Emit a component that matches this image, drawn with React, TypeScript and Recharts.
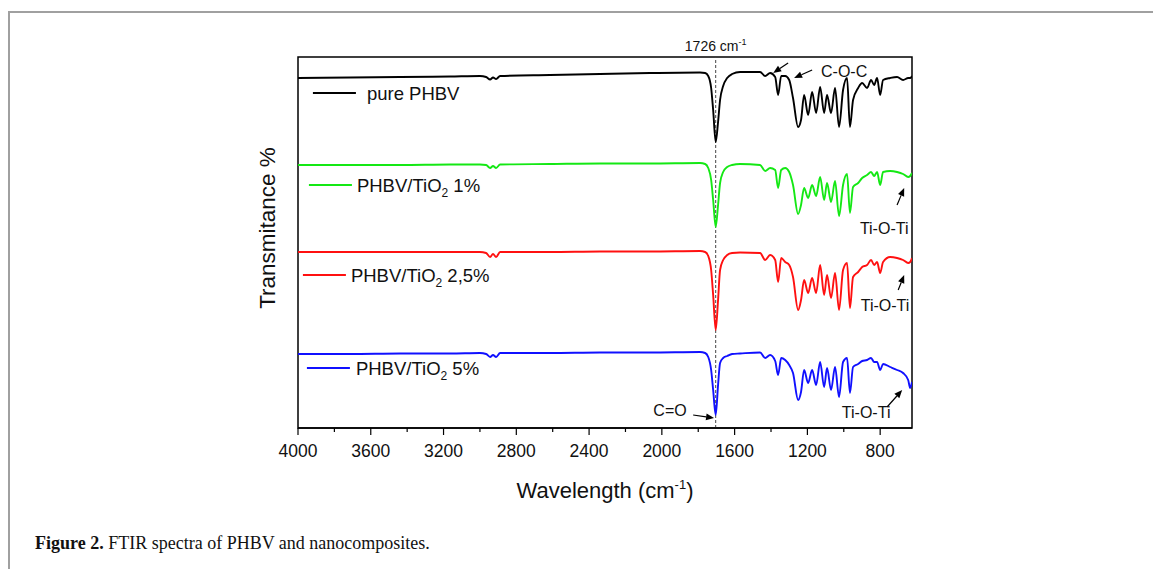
import React from 'react';
import { LineChart, Line, XAxis, YAxis, ReferenceLine, ReferenceArea, ReferenceDot } from 'recharts';

// Wavenumbers (cm-1) shared by all four spectra
const wavenumbers = [4000, 3714, 3439, 3164, 3000, 2966, 2944, 2928, 2911, 2889, 2615, 2340, 2065, 1790, 1762, 1745, 1729, 1718, 1704, 1691, 1680, 1663, 1641, 1614, 1570, 1460, 1432, 1405, 1377, 1361, 1344, 1322, 1300, 1279, 1251, 1235, 1218, 1196, 1174, 1152, 1130, 1108, 1092, 1070, 1048, 1026, 1004, 982, 966, 949, 921, 899, 872, 850, 833, 817, 800, 784, 745, 707, 674, 646, 635, 625];

// Offset transmittance values (arbitrary units, stacked)
const purePHBV = [350, 350.5, 351, 351.5, 352, 351, 348.5, 350.5, 349, 352, 353, 354, 355, 355.5, 355, 352, 340, 318, 286, 306, 328, 342, 350, 354, 356, 356, 352, 355, 351, 333, 352, 352, 348, 330, 301, 308, 333, 313, 336, 315, 341, 315, 333, 315, 340, 301, 338, 350, 301, 328, 340, 345, 340, 348, 343, 350, 333, 348, 350, 351, 348, 350, 350, 352];
const tio2OnePct = [263, 263, 263, 263.5, 263.5, 263, 260, 262, 260, 263.5, 264, 264.5, 264.5, 265, 264, 260, 248, 228, 201, 223, 245, 256, 261, 263, 264, 263, 257, 260, 258, 240, 258, 260, 256, 243, 214, 223, 240, 230, 243, 232, 251, 228, 245, 226, 247, 212, 243, 254, 215, 241, 245, 250, 253, 256, 252, 256, 243, 256, 257, 256, 254, 251, 252, 255];
const tio2TwoHalfPct = [176, 176, 176, 176, 176, 175, 171, 174, 171, 176, 176, 176.5, 176.5, 177, 176, 172, 158, 133, 98, 128, 158, 168, 173, 175, 175.5, 175, 168, 173, 168, 146, 170, 166, 163, 151, 118, 128, 148, 135, 150, 135, 163, 133, 153, 130, 155, 118, 158, 165, 120, 151, 156, 161, 163, 168, 163, 166, 155, 166, 171, 170, 168, 165, 166, 170];
const tio2FivePct = [74, 74, 74.5, 74.5, 75, 74, 71, 73, 71, 75, 75, 75.5, 75.5, 76, 75, 71, 58, 38, 13, 43, 65, 70, 72, 74, 74.5, 75.5, 70, 73, 67, 53, 70, 68, 63, 55, 28, 36, 58, 45, 58, 43, 66, 41, 60, 38, 61, 31, 66, 70, 35, 61, 64, 67, 68, 70, 66, 66, 58, 64, 61, 58, 55, 48, 40, 46];

const xTicks = [4000, 3800, 3600, 3400, 3200, 3000, 2800, 2600, 2400, 2200, 2000, 1800, 1600, 1400, 1200, 1000, 800];
const majorTickStep = 400;
const xDomain = [625, 4000];
const yDomain = [0, 371];
const carbonylPeak = 1704;

const seriesKeys = ['pure', 'one', 'twoHalf', 'five'];
const seriesColors = ['#000000', '#14e814', '#ff1010', '#1010ff'];

const data = wavenumbers.map((w, i) => ({
  w,
  pure: purePHBV[i],
  one: tio2OnePct[i],
  twoHalf: tio2TwoHalfPct[i],
  five: tio2FivePct[i],
}));

const sans = "'Liberation Sans', Arial, Helvetica, sans-serif";

const XTick = (props: any) => {
  const { x, y, payload } = props;
  const v = payload.value;
  const major = v % majorTickStep === 0;
  return (
    <g>
      <line x1={x} x2={x} y1={y} y2={y + (major ? 7 : 4)} stroke="#000" strokeWidth={1.2} />
      {major && (
        <text x={x} y={y + 29} textAnchor="middle" fontSize={17.5} fontFamily={sans} fill="#111">
          {v}
        </text>
      )}
    </g>
  );
};

const XTitle = (props: any) => {
  const vb = props.viewBox;
  const cx = vb.x + vb.width / 2;
  return (
    <text x={cx} y={vb.y + 70} textAnchor="middle" fontSize={22} fontFamily={sans} fill="#111">
      Wavelength (cm
      <tspan dy={-9} fontSize={13}>-1</tspan>
      <tspan dy={9}>)</tspan>
    </text>
  );
};

const yTitleShape = (p: any) => (
  <text
    x={p.cx}
    y={p.cy}
    transform={`rotate(-90 ${p.cx} ${p.cy})`}
    textAnchor="middle"
    dominantBaseline="central"
    fontSize={22.5}
    fontFamily={sans}
    fill="#111"
  >
    Transmitance %
  </text>
);

const Arrow = (p: any) => {
  const { x1, y1, x2, y2 } = p;
  const dx = x2 - x1;
  const dy = y2 - y1;
  const L = Math.hypot(dx, dy) || 1;
  const ux = dx / L;
  const uy = dy / L;
  const hl = 8;
  const hw = 3.3;
  const bx = x2 - ux * hl;
  const by = y2 - uy * hl;
  return (
    <g>
      <line x1={x1} y1={y1} x2={bx} y2={by} stroke="#000" strokeWidth={1.2} />
      <polygon points={`${x2},${y2} ${bx - uy * hw},${by + ux * hw} ${bx + uy * hw},${by - ux * hw}`} fill="#000" />
    </g>
  );
};

const textShape = (label: string, size: number, dy: number, anchor: string = 'middle') => (p: any) => (
  <text x={p.cx} y={p.cy + dy} textAnchor={anchor} fontSize={size} fontFamily={sans} fill="#111">
    {label}
  </text>
);

const legendShape = (color: string, gap: number, prefix: string, sub: string, suffix: string) => (p: any) => (
  <g>
    <line x1={p.cx} x2={p.cx + 43} y1={p.cy} y2={p.cy} stroke={color} strokeWidth={1.8} />
    <text x={p.cx + gap} y={p.cy + 6.5} fontSize={18.5} fontFamily={sans} fill="#111">
      {prefix}
      {sub ? <tspan dy={5} fontSize={12}>{sub}</tspan> : null}
      {sub ? <tspan dy={-5}>{suffix}</tspan> : suffix}
    </text>
  </g>
);

const peakLabel = (p: any) => (
  <text x={p.cx} y={p.cy - 6} textAnchor="middle" fontSize={14} fontFamily={sans} fill="#111">
    1726 cm<tspan dy={-6} fontSize={9}>-1</tspan>
  </text>
);

export default function App() {
  return (
    <div style={{ position: 'absolute', left: 0, top: 0, width: 1153, height: 569, background: '#fff', overflow: 'hidden' }}>
      <div
        style={{
          position: 'absolute',
          left: 8,
          top: 11,
          right: -4,
          bottom: -4,
          borderTop: '2px solid #a0a0a0',
          borderLeft: '2px solid #a0a0a0',
        }}
      />
      <div style={{ position: 'absolute', left: 0, top: 0 }}>
        <LineChart width={1153} height={569} data={data} margin={{ top: 57, right: 241, bottom: 111, left: 298 }}>
          <XAxis
            dataKey="w"
            type="number"
            domain={xDomain}
            reversed
            allowDataOverflow
            ticks={xTicks}
            interval={0}
            tick={<XTick />}
            tickLine={false}
            tickSize={0}
            tickMargin={0}
            axisLine={{ stroke: '#000', strokeWidth: 1.5 }}
            height={30}
            label={<XTitle />}
          />
          <YAxis type="number" domain={yDomain} allowDataOverflow hide />
          <ReferenceArea x1={xDomain[0]} x2={xDomain[1]} y1={yDomain[0]} y2={yDomain[1]} fill="none" stroke="#000" strokeWidth={1.5} fillOpacity={0} />
          <ReferenceLine x={carbonylPeak} stroke="#444" strokeWidth={1} strokeDasharray="3 2" />
          {seriesKeys.map((k, i) => (
            <Line
              key={k}
              dataKey={k}
              type="monotone"
              stroke={seriesColors[i]}
              strokeWidth={1.9}
              dot={false}
              activeDot={false}
              isAnimationActive={false}
            />
          ))}
          <ReferenceDot x={4165} y={200} r={0} ifOverflow="visible" shape={yTitleShape} />
          <ReferenceDot x={carbonylPeak} y={371} r={0} ifOverflow="visible" shape={peakLabel} />
          <ReferenceDot x={998} y={351} r={0} ifOverflow="visible" shape={textShape('C-O-C', 16, 0)} />
          <ReferenceDot x={778} y={194} r={0} ifOverflow="visible" shape={textShape('Ti-O-Ti', 16, 0)} />
          <ReferenceDot x={773} y={117} r={0} ifOverflow="visible" shape={textShape('Ti-O-Ti', 16, 0)} />
          <ReferenceDot x={877} y={10} r={0} ifOverflow="visible" shape={textShape('Ti-O-Ti', 16, 0)} />
          <ReferenceDot x={1955} y={12} r={0} ifOverflow="visible" shape={textShape('C=O', 16, 0)} />
          <ReferenceLine segment={[{ x: 1306, y: 365 }, { x: 1388, y: 355 }]} ifOverflow="visible" shape={Arrow} />
          <ReferenceLine segment={[{ x: 1174, y: 358 }, { x: 1273, y: 350 }]} ifOverflow="visible" shape={Arrow} />
          <ReferenceLine segment={[{ x: 707, y: 223 }, { x: 668, y: 240 }]} ifOverflow="visible" shape={Arrow} />
          <ReferenceLine segment={[{ x: 701, y: 138 }, { x: 668, y: 153 }]} ifOverflow="visible" shape={Arrow} />
          <ReferenceLine segment={[{ x: 762, y: 21 }, { x: 679, y: 38 }]} ifOverflow="visible" shape={Arrow} />
          <ReferenceLine segment={[{ x: 1828, y: 13 }, { x: 1713, y: 10 }]} ifOverflow="visible" shape={Arrow} />
          <ReferenceDot x={3918} y={335} r={0} ifOverflow="visible" shape={legendShape(seriesColors[0], 54, 'pure PHBV', '', '')} />
          <ReferenceDot x={3940} y={243} r={0} ifOverflow="visible" shape={legendShape(seriesColors[1], 48, 'PHBV/TiO', '2', ' 1%')} />
          <ReferenceDot x={3973} y={153} r={0} ifOverflow="visible" shape={legendShape(seriesColors[2], 48, 'PHBV/TiO', '2', ' 2,5%')} />
          <ReferenceDot x={3951} y={60} r={0} ifOverflow="visible" shape={legendShape(seriesColors[3], 49, 'PHBV/TiO', '2', ' 5%')} />
        </LineChart>
      </div>
      <div
        style={{
          position: 'absolute',
          left: 35,
          top: 533,
          fontFamily: "'Liberation Serif', 'Times New Roman', serif",
          fontSize: 18,
          color: '#111',
          whiteSpace: 'nowrap',
        }}
      >
        <b>Figure 2.</b> FTIR spectra of PHBV and nanocomposites.
      </div>
    </div>
  );
}
